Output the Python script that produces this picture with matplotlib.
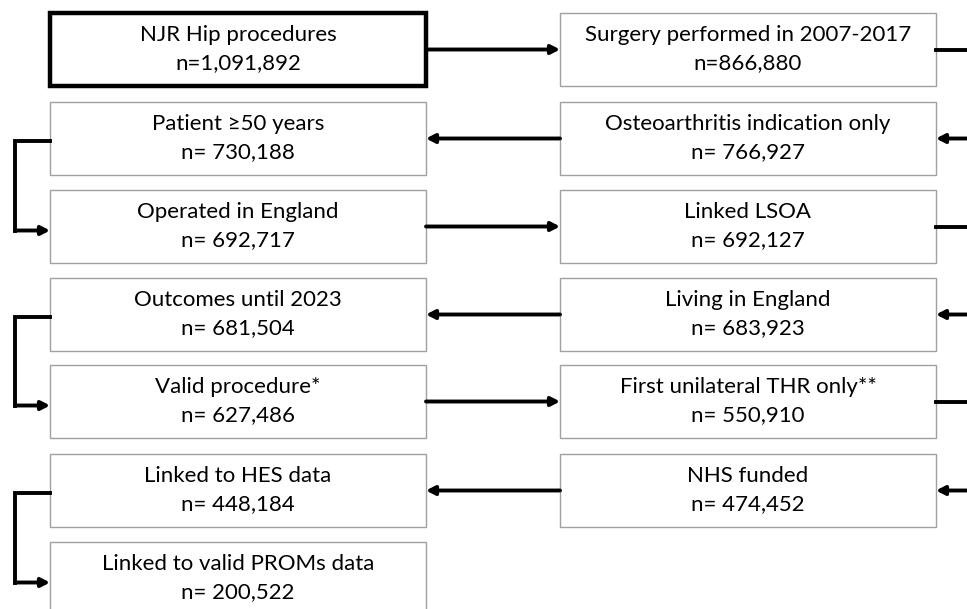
import matplotlib.pyplot as plt
from matplotlib.patches import Rectangle

# Flow steps, in order of the flowchart
steps = [
    "NJR Hip procedures",
    "Surgery performed in 2007-2017",
    "Osteoarthritis indication only",
    "Patient \u226550 years",
    "Operated in England",
    "Linked LSOA",
    "Living in England",
    "Outcomes until 2023",
    "Valid procedure*",
    "First unilateral THR only**",
    "NHS funded",
    "Linked to HES data",
    "Linked to valid PROMs data",
]
counts = [
    "n=1,091,892",
    "n=866,880",
    "n= 766,927",
    "n= 730,188",
    "n= 692,717",
    "n= 692,127",
    "n= 683,923",
    "n= 681,504",
    "n= 627,486",
    "n= 550,910",
    "n= 474,452",
    "n= 448,184",
    "n= 200,522",
]
# column (0 left, 1 right) and row of each step
cols = [0, 1, 1, 0, 0, 1, 1, 0, 0, 1, 1, 0, 0]
rows = [0, 0, 1, 1, 2, 2, 3, 3, 4, 4, 5, 5, 6]

W, H = 967, 609
col_x = [50, 560]
box_w = 376
row_top = [13, 102, 190, 278, 365, 454, 542]
box_h = 73

fig = plt.figure(figsize=(W / 100, H / 100), dpi=100)
ax = fig.add_axes([0, 0, 1, 1])
ax.set_xlim(0, W)
ax.set_ylim(H, 0)
ax.axis("off")

LW = 2.8
arrow_kw = dict(arrowstyle="-|>,head_length=0.5,head_width=0.26",
                color="black", lw=LW, shrinkA=0, shrinkB=0)


def arrow(x0, y0, x1, y1):
    ax.annotate("", xy=(x1, y1), xytext=(x0, y0), arrowprops=arrow_kw)


def center_y(r):
    return row_top[r] + box_h / 2


for i, (label, n) in enumerate(zip(steps, counts)):
    x = col_x[cols[i]]
    y = row_top[rows[i]]
    first = i == 0
    ax.add_patch(Rectangle((x, y), box_w, box_h, facecolor="white",
                           edgecolor="black" if first else "#a0a0a0",
                           lw=3.2 if first else 1.0, zorder=2))
    ax.text(x + box_w / 2, y + box_h / 2 - 0.5, label + "\n" + n,
            ha="center", va="center", fontsize=16, family="Lato",
            linespacing=1.55, color="black", zorder=3)

# connectors between consecutive steps
for i in range(len(steps) - 1):
    c0, c1 = cols[i], cols[i + 1]
    r0, r1 = rows[i], rows[i + 1]
    if r0 == r1:
        y = center_y(r0)
        if c0 == 0:
            arrow(col_x[0] + box_w, y, col_x[1], y)
        else:
            arrow(col_x[1], y, col_x[0] + box_w, y)
    elif c0 == 1:
        # right side wraps past the page edge
        y0, y1 = center_y(r0), center_y(r1)
        ax.plot([col_x[1] + box_w, W + 40], [y0, y0], color="black", lw=LW)
        arrow(W + 40, y1, col_x[1] + box_w, y1)
    else:
        y0, y1 = center_y(r0) + 2, center_y(r1) + 4
        xe = 15
        ax.plot([col_x[0], xe, xe], [y0, y0, y1], color="black", lw=LW,
                solid_joinstyle="miter", solid_capstyle="projecting")
        arrow(xe, y1, col_x[0], y1)

fig.savefig("out.png", dpi=100)
